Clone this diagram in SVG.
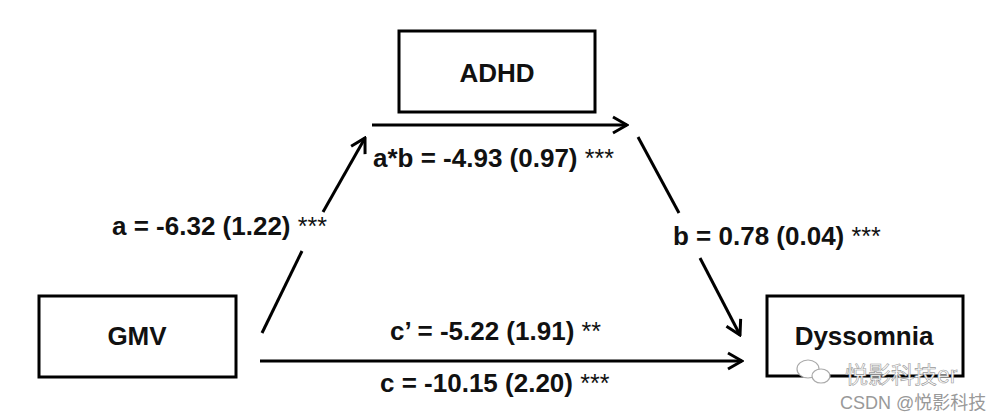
<svg xmlns="http://www.w3.org/2000/svg" width="992" height="420" viewBox="0 0 992 420">
<style>
.box{fill:#fff;stroke:#000;stroke-width:3}
.lbl{font-family:"Liberation Sans",Arial,sans-serif;font-weight:bold;font-size:26px;fill:#111}
.node{font-family:"Liberation Sans",Arial,sans-serif;font-weight:bold;font-size:26px;fill:#111;text-anchor:middle}
.ast{font-weight:normal;font-size:25px}
.ln{stroke:#000;stroke-width:3;fill:none}
.wm{font-family:"Liberation Sans","Noto Sans CJK SC",sans-serif}
</style>
<defs>
<marker id="arr" markerUnits="userSpaceOnUse" markerWidth="20" markerHeight="20" viewBox="0 0 20 20" refX="18" refY="10" orient="auto">
<path d="M4,2 L18,10 L4,18" fill="none" stroke="#000" stroke-width="3"/>
</marker>
</defs>
<rect width="992" height="420" fill="#fff"/>
<g id="ADHD"><rect class="box" x="399" y="31" width="196" height="81"/><text class="node" x="497" y="82">ADHD</text></g>
<g id="GMV"><rect class="box" x="39" y="296" width="197" height="81"/><text class="node" x="137" y="345">GMV</text></g>
<g id="Dyssomnia"><rect class="box" x="767" y="296" width="196" height="80"/><text class="node" x="864" y="345">Dyssomnia</text></g>
<g id="connectors">
<line class="ln" x1="262" y1="333" x2="302" y2="251"/>
<line class="ln" x1="323" y1="212" x2="365" y2="138" marker-end="url(#arr)"/>
<line class="ln" x1="372" y1="125" x2="627" y2="125" marker-end="url(#arr)"/>
<line class="ln" x1="638" y1="137" x2="679" y2="213"/>
<line class="ln" x1="700" y1="258" x2="740" y2="335" marker-end="url(#arr)"/>
<line class="ln" x1="260" y1="361" x2="742" y2="361" marker-end="url(#arr)"/>
</g>
<g id="labels">
<text class="lbl" x="112" y="235">a = -6.32 (1.22) <tspan class="ast">***</tspan></text>
<text class="lbl" x="373" y="167">a*b = -4.93 (0.97) <tspan class="ast">***</tspan></text>
<text class="lbl" x="673" y="245">b = 0.78 (0.04) <tspan class="ast">***</tspan></text>
<text class="lbl" x="390" y="340">c’ = -5.22 (1.91) <tspan class="ast">**</tspan></text>
<text class="lbl" x="380" y="392">c = -10.15 (2.20) <tspan class="ast">***</tspan></text>
</g>
<g id="watermark">
<ellipse cx="808" cy="369" rx="11" ry="9" fill="#fff" stroke="#aaa" stroke-width="1.2"/>
<ellipse cx="821" cy="376" rx="9" ry="7" fill="#fff" stroke="#aaa" stroke-width="1.2"/>
<text class="wm" x="845" y="383" fill="#fff" stroke="#999" stroke-width="0.6" style="font-size:23px">悦影科技er</text>
<text class="wm" x="840" y="409" fill="#999" style="font-size:18px">CSDN @悦影科技</text>
</g>
</svg>
